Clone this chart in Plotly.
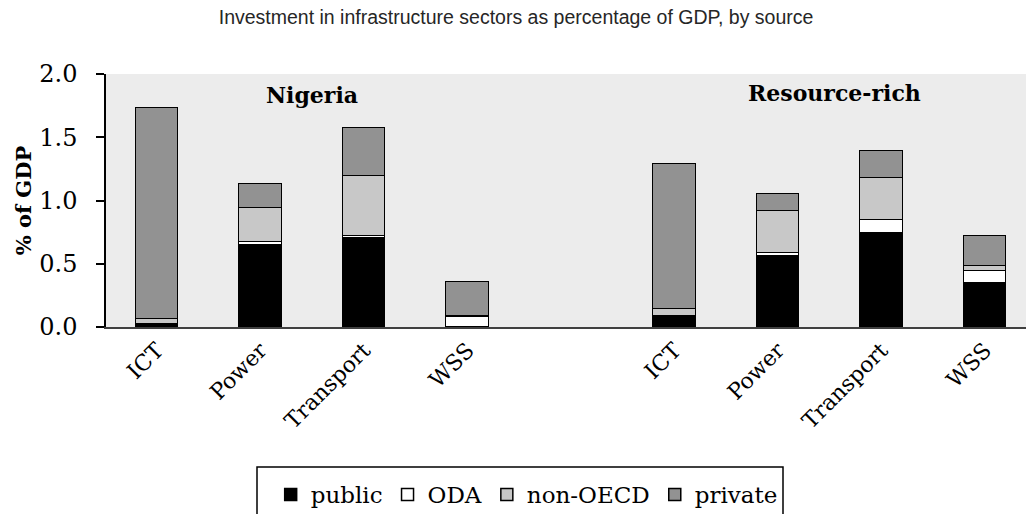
import plotly.graph_objects as go

sectors = ["ICT", "Power", "Transport", "WSS"]
groups = ["Nigeria", "Resource-rich"]

# values (% of GDP) per group, in sector order
public_ng = [0.02, 0.645, 0.70, 0.0]
oda_ng = [0.005, 0.025, 0.02, 0.08]
nonoecd_ng = [0.04, 0.27, 0.475, 0.005]
private_ng = [1.665, 0.19, 0.38, 0.27]

public_rr = [0.085, 0.56, 0.74, 0.345]
oda_rr = [0.005, 0.025, 0.105, 0.10]
nonoecd_rr = [0.055, 0.335, 0.335, 0.04]
private_rr = [1.14, 0.13, 0.215, 0.237]

series = [
    ("public", public_ng + public_rr, "#000000"),
    ("ODA", oda_ng + oda_rr, "#ffffff"),
    ("non-OECD", nonoecd_ng + nonoecd_rr, "#c8c8c8"),
    ("private", private_ng + private_rr, "#929292"),
]

# positions: one empty slot between the two groups
n = len(sectors)
xpos = list(range(n)) + [i + n + 1 for i in range(n)]
ticktext = sectors + sectors

SERIF = "DejaVu Serif"

fig = go.Figure()
for name, vals, col in series:
    fig.add_trace(go.Bar(
        x=xpos, y=vals, name=name, width=0.41,
        marker=dict(color=col, line=dict(color="#000000", width=1.5)),
    ))

fig.update_layout(
    width=1026, height=514,
    barmode="stack",
    plot_bgcolor="#ececec",
    paper_bgcolor="#ffffff",
    margin=dict(l=106, r=0, t=74, b=187, autoexpand=False),
    title=dict(
        text="Investment in infrastructure sectors as percentage of GDP, by source",
        x=0.503, xanchor="center", y=0.966, yanchor="middle",
        font=dict(family="Liberation Sans", size=19.5, color="#262626"),
    ),
    xaxis=dict(
        range=[-0.493, 8.396], automargin=False,
        tickmode="array", tickvals=xpos, ticktext=ticktext,
        tickangle=-45,
        tickfont=dict(family=SERIF, size=22, color="#000000"),
        showline=True, linecolor="#404040", linewidth=1.5,
        showgrid=False, zeroline=False, ticks="",
    ),
    yaxis=dict(
        range=[0, 2], dtick=0.5, tick0=0, tickformat=".1f", automargin=False,
        tickfont=dict(family=SERIF, size=24, color="#000000"),
        showline=True, linecolor="#000000", linewidth=1.5,
        ticks="outside", ticklen=8, tickcolor="#000000", tickwidth=1.5,
        ticklabelstandoff=14,
        showgrid=False, zeroline=False,
        title=dict(text="<b>% of GDP</b>", font=dict(family=SERIF, size=21, color="#000000"), standoff=2),
    ),
    legend=dict(
        orientation="h", x=0.179, xanchor="left", y=-0.577, yanchor="top",
        font=dict(family=SERIF, size=23, color="#000000"),
        bgcolor="rgba(0,0,0,0)", borderwidth=0,
        traceorder="normal",
    ),
    showlegend=True,
    bargap=0,
)

fig.add_annotation(x=1.5, y=1.834, xref="x", yref="y", text="<b>Nigeria</b>",
                   showarrow=False, font=dict(family=SERIF, size=22, color="#000000"))
fig.add_annotation(x=6.55, y=1.85, xref="x", yref="y", text="<b>Resource-rich</b>",
                   showarrow=False, font=dict(family=SERIF, size=22, color="#000000"))

# legend frame (extends below the visible page, as in the reference)
fig.add_shape(type="rect", xref="paper", yref="paper",
              x0=(257 - 106) / 920, x1=(783 - 106) / 920,
              y0=(327 - 530) / 253, y1=(327 - 467) / 253,
              line=dict(color="#000000", width=1.5), fillcolor="rgba(0,0,0,0)", layer="below")

fig.write_html(
    "out.html",
    config={"displayModeBar": False},
    post_script="document.body.style.margin='0';document.body.style.overflow='hidden';",
)
